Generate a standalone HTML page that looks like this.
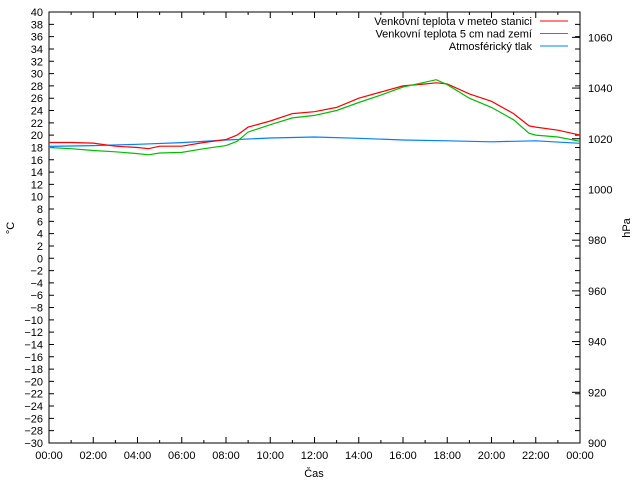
<!DOCTYPE html>
<html><head><meta charset="utf-8"><style>
body{margin:0;background:#fff}
svg{display:block;font-family:"Liberation Sans",sans-serif;font-size:11px}
</style></head><body>
<svg id="c" width="640" height="480"></svg>
<script>
const hours=[0,1,2,3,4,4.5,5,6,7,8,8.5,9,10,11,12,13,14,15,16,17,17.5,18,19,20,21,21.7,22,23,24];
const tempStation=[18.8,18.8,18.7,18.2,18.0,17.8,18.2,18.2,18.8,19.3,20,21.3,22.3,23.5,23.8,24.5,26,27,28,28.3,28.5,28.3,26.7,25.5,23.5,21.5,21.3,20.8,20];
const tempGround=[18.0,17.8,17.5,17.3,17.0,16.8,17.1,17.2,17.8,18.3,19,20.5,21.7,22.8,23.2,24,25.3,26.5,27.8,28.6,29,28.2,26,24.5,22.5,20.3,20,19.7,19];
const pHours=[0,2,4,6,8,10,12,14,16,18,20,22,24];
const pressure=[1017,1017.3,1017.8,1018.5,1019.5,1020.3,1020.7,1020.2,1019.5,1019.2,1018.8,1019.2,1018.2];
const yTicks=[];for(let v=-30;v<=40;v+=2)yTicks.push(v);
const y2Ticks=[900,920,940,960,980,1000,1020,1040,1060];
const xTickLabels=["00:00","02:00","04:00","06:00","08:00","10:00","12:00","14:00","16:00","18:00","20:00","22:00","00:00"];
const L=49,R=580,T=12,B=443;
const X=h=>L+(R-L)*h/24, Y=v=>B-(B-T)*(v+30)/70, Y2=p=>B-(B-T)*(p-900)/170;
const s=document.getElementById('c'),NS="http://www.w3.org/2000/svg";
function el(t,a,txt){const e=document.createElementNS(NS,t);for(const k in a)e.setAttribute(k,a[k]);if(txt!=null)e.textContent=txt;s.appendChild(e);return e;}
let e=el('rect',{x:L,y:T,width:R-L,height:B-T,fill:'none',stroke:'#000'});


yTicks.forEach(v=>{const y=Y(v);
 el('path',{d:`M${L} ${y}h5M${R} ${y}h-5`,stroke:'#000'});
 const t=el('text',{x:L-6,y:y+4,'text-anchor':'end'},v<0?'\u2212'+(-v):String(v));
 
 });
y2Ticks.forEach(p=>{const y=Y2(p);
 el('path',{d:`M${R} ${y}h-8`,stroke:'#000'});
 const t=el('text',{x:R+8,y:y+4},String(p));
 
 });
xTickLabels.forEach((lab,i)=>{const x=X(i*2);
 el('path',{d:`M${x} ${B}v-6M${x} ${T}v6`,stroke:'#000'});
 const t=el('text',{x:x,y:B+16,'text-anchor':'middle'},lab);
 
 });
for(let h=1;h<24;h+=2){const x=X(h);el('path',{d:`M${x} ${B}v-3M${x} ${T}v3`,stroke:'#000'});}
e=el('text',{x:314,y:477,'text-anchor':'middle'},'Čas');


e=el('text',{x:14,y:228,'text-anchor':'middle',transform:'rotate(-90 14 228)'},'°C');


e=el('text',{x:630,y:228,'text-anchor':'middle',transform:'rotate(-90 630 228)'},'hPa');


function line(xs,ys,fy,col,name){const d=xs.map((h,i)=>(i?'L':'M')+X(h).toFixed(1)+' '+fy(ys[i]).toFixed(1)).join('');
 const p=el('path',{d:d,fill:'none',stroke:col,'stroke-width':1.2});
 
 }
line(pHours,pressure,Y2,'#0080ff','pressure-line');
line(hours,tempStation,Y,'#ff0000','station-temp-line');
line(hours,tempGround,Y,'#00c000','ground-temp-line');
[['Venkovní teplota v meteo stanici','#ff0000'],['Venkovní teplota 5 cm nad zemí','#00c000'],['Atmosférický tlak','#0080ff']].forEach((it,i)=>{const y=21+i*12.5;
 const t=el('text',{x:532,y:y+4,'text-anchor':'end'},it[0]);
 
 
 el('path',{d:`M540 ${y}H568`,stroke:it[1]});});
</script>
</body></html>
